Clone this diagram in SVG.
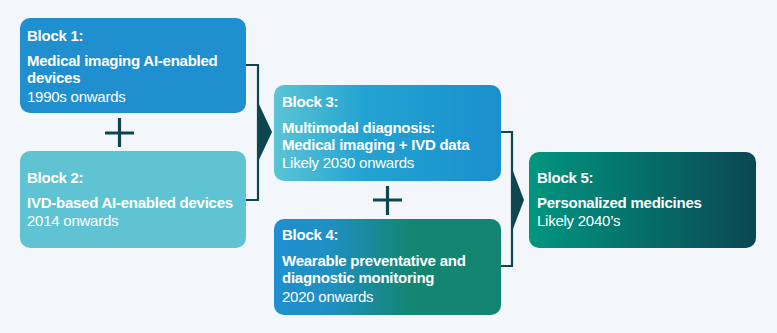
<svg xmlns="http://www.w3.org/2000/svg" width="777" height="333" viewBox="0 0 777 333">
<style>
.t{font-family:"Liberation Sans",Arial,sans-serif;font-size:15px;letter-spacing:-0.25px;fill:#ffffff}
.b{font-weight:bold}
.c{fill:none;stroke:#0e4650;stroke-width:2.2}
.p{fill:none;stroke:#0e4650;stroke-width:3.2}
.a{fill:#0e4650}
</style>
<defs>
<linearGradient id="g3" x1="0" y1="0" x2="1" y2="0">
<stop offset="0" stop-color="#5cc4d4"/>
<stop offset="0.4" stop-color="#22a3d1"/>
<stop offset="1" stop-color="#1a8fcf"/>
</linearGradient>
<linearGradient id="g4" x1="0" y1="0" x2="1" y2="0">
<stop offset="0" stop-color="#1f8fd0"/>
<stop offset="0.25" stop-color="#1f8fc2"/>
<stop offset="0.6" stop-color="#138672"/>
<stop offset="1" stop-color="#138470"/>
</linearGradient>
<linearGradient id="g5" x1="0" y1="0" x2="1" y2="0">
<stop offset="0" stop-color="#009680"/>
<stop offset="1" stop-color="#0b4753"/>
</linearGradient>
</defs>
<rect width="777" height="333" fill="#f3f6fb"/>
<g id="connectors">
<polyline class="c" points="246,65 258,65 258,200 246,200"/>
<polygon class="a" points="257,100 272,132 257,164"/>
<polyline class="c" points="501,132 512,132 512,266 501,266"/>
<polygon class="a" points="511,166 524,200 511,234"/>
<path class="p" d="M105,133 H134 M119.5,118 V147"/>
<path class="p" d="M373,200 H402 M387.5,186 V215"/>
</g>
<g id="block1">
<rect x="20" y="18" width="226" height="95" rx="10" fill="#1f8fcf"/>
<text class="t b" x="27" y="41">Block 1:</text>
<text class="t b" x="27" y="66">Medical imaging AI-enabled</text>
<text class="t b" x="27" y="83">devices</text>
<text class="t" x="27" y="102">1990s onwards</text>
</g>
<g id="block2">
<rect x="20" y="151" width="226" height="97" rx="10" fill="#5fc3d3"/>
<text class="t b" x="27" y="183">Block 2:</text>
<text class="t b" x="27" y="208">IVD-based AI-enabled devices</text>
<text class="t" x="27" y="226">2014 onwards</text>
</g>
<g id="block3">
<rect x="274" y="85" width="227" height="96" rx="10" fill="url(#g3)"/>
<text class="t b" x="282" y="107">Block 3:</text>
<text class="t b" x="282" y="133">Multimodal diagnosis:</text>
<text class="t b" x="282" y="150">Medical imaging + IVD data</text>
<text class="t" x="282" y="168">Likely 2030 onwards</text>
</g>
<g id="block4">
<rect x="274" y="219" width="227" height="96" rx="10" fill="url(#g4)"/>
<text class="t b" x="282" y="240">Block 4:</text>
<text class="t b" x="282" y="266">Wearable preventative and</text>
<text class="t b" x="282" y="283">diagnostic monitoring</text>
<text class="t" x="282" y="302">2020 onwards</text>
</g>
<g id="block5">
<rect x="529" y="152" width="227" height="96" rx="10" fill="url(#g5)"/>
<text class="t b" x="537" y="183">Block 5:</text>
<text class="t b" x="537" y="208">Personalized medicines</text>
<text class="t" x="537" y="226">Likely 2040’s</text>
</g>
</svg>
